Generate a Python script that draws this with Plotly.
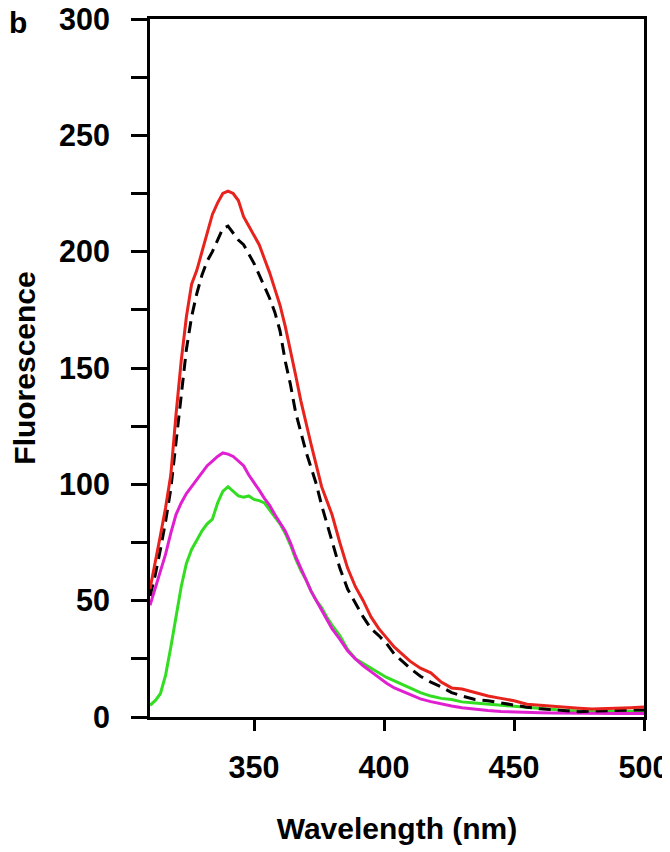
import plotly.graph_objects as go

wavelength = [310, 312, 314, 316, 318, 320, 322, 324, 326, 328, 330, 332, 334, 336, 338, 340,
              342, 344, 346, 348, 350, 352, 354, 356, 358, 360, 362, 364, 366, 368, 370, 372,
              374, 376, 378, 380, 383, 386, 389, 392, 395, 398, 401, 404, 407, 410, 414, 418,
              422, 426, 430, 435, 440, 445, 450, 455, 460, 465, 470, 475, 480, 485, 490, 495, 500]

red = [55, 66, 78, 90, 104, 130, 153, 172, 186, 192, 200, 207, 216, 221, 225, 226,
       225, 222, 215, 211, 207, 203, 197, 191, 184, 177, 168, 158, 147, 136, 126, 117,
       108, 99, 93, 87, 75, 64, 56, 50, 43, 38, 34, 30, 27, 24, 21, 19,
       15, 12.5, 12, 10.5, 9, 8, 7, 5.5, 5, 4.5, 4, 3.8, 3.4, 3.5, 3.8, 4, 4.3]

black = [52, 61, 72, 84, 98, 118, 138, 158, 172, 182, 190, 196, 200, 205, 210, 211,
         208, 205, 203, 199, 195, 190, 185, 180, 174, 166, 153, 143, 131, 122, 114, 107,
         100, 91, 83, 76, 64, 55, 49, 43, 38, 35, 31.5, 27, 24, 21, 17.5, 15,
         13, 10.5, 9, 7.5, 7, 6, 5, 4.2, 3.5, 3, 2.5, 2.3, 2.5, 2.7, 3, 3, 3]

magenta = [48, 55, 62, 70, 79, 87, 92, 96, 99, 102, 105, 108, 110, 112, 113.5, 113,
           112, 110, 108, 104, 101, 97.5, 94, 91, 87, 83.5, 80, 75, 69, 64, 59, 54,
           50, 46, 42, 38, 33.5, 28.5, 25, 22, 19.5, 17, 14.5, 12.5, 11, 9.5, 7.8, 6.6,
           5.5, 4.7, 4, 3.3, 2.8, 2.4, 2.1, 1.9, 1.8, 1.7, 1.6, 1.6, 1.5, 1.5, 1.5, 1.5, 1.5]

green = [5, 7, 10, 18, 30, 43, 56, 66, 72, 76, 80, 83, 85, 92, 97, 99,
         97, 95, 94.5, 95, 93.5, 93, 92, 89, 86, 83, 79, 74, 68, 63, 59, 54,
         50, 47, 43, 39.5, 35, 29, 25, 23, 21, 19, 17, 15.5, 14, 12.5, 10.5, 9,
         8, 7.5, 6.5, 6, 5.5, 5, 4.5, 4, 3.7, 3.2, 2.8, 2.6, 2.5, 2.5, 2.5, 2.5, 2.5]

x_ticks = [350, 400, 450, 500]
y_ticks = [0, 50, 100, 150, 200, 250, 300]

FONT = "Liberation Sans, Arial, sans-serif"
TICK_SIZE = 30.5
TITLE_SIZE = 30

fig = go.Figure()
fig.add_trace(go.Scatter(x=wavelength, y=green, mode="lines",
                         line=dict(color="#33dd22", width=3)))
fig.add_trace(go.Scatter(x=wavelength, y=magenta, mode="lines",
                         line=dict(color="#e020d0", width=3)))
fig.add_trace(go.Scatter(x=wavelength, y=black, mode="lines",
                         line=dict(color="black", width=3, dash="12px,7px")))
fig.add_trace(go.Scatter(x=wavelength, y=red, mode="lines",
                         line=dict(color="#e8221c", width=3)))

fig.update_layout(
    width=670, height=852,
    margin=dict(l=142, r=34, t=11, b=143, autoexpand=False),
    paper_bgcolor="white", plot_bgcolor="white",
    showlegend=False,
    font=dict(family=FONT, color="black", size=TICK_SIZE, weight="bold"),
    annotations=[dict(text="b", xref="paper", yref="paper",
                      x=-0.267, y=0.9943, showarrow=False,
                      xanchor="center", yanchor="middle",
                      font=dict(family=FONT, size=TITLE_SIZE, weight="bold", color="black"))],
)
fig.update_xaxes(
    range=[310, 500], tickvals=x_ticks, ticktext=[str(v) for v in x_ticks],
    showline=True, linewidth=3, linecolor="black", mirror=True,
    ticks="outside", ticklen=11, tickwidth=3, tickcolor="black",
    ticklabelstandoff=10, ticklabeloverflow="allow",
    showgrid=False, zeroline=False, automargin=True,
    tickfont=dict(family=FONT, size=TICK_SIZE, weight="bold"),
    title=dict(text="Wavelength (nm)", standoff=36,
               font=dict(family=FONT, size=TITLE_SIZE, weight="bold")),
)
fig.update_yaxes(
    range=[0, 300], tickvals=y_ticks, ticktext=[str(v) for v in y_ticks],
    showline=True, linewidth=3, linecolor="black", mirror=True,
    ticks="outside", ticklen=16, tickwidth=3, tickcolor="black",
    minor=dict(dtick=25, tick0=0, ticks="outside", ticklen=16, tickwidth=3, tickcolor="black"),
    ticklabelstandoff=15, ticklabeloverflow="allow",
    showgrid=False, zeroline=False, automargin=True,
    tickfont=dict(family=FONT, size=TICK_SIZE, weight="bold"),
    title=dict(text="Fluorescence", standoff=20,
               font=dict(family=FONT, size=TITLE_SIZE, weight="bold")),
)

fig.write_html("out.html")
